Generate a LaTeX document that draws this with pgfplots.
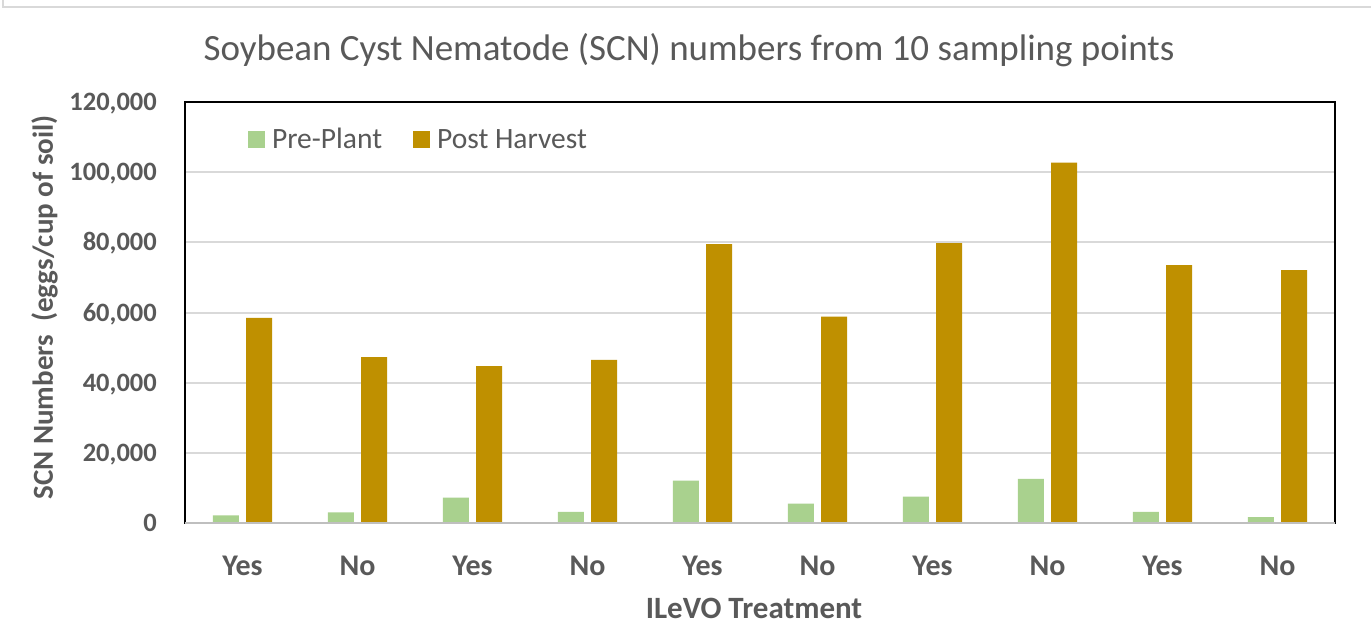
\documentclass[border=0pt]{standalone}
\usepackage{fontspec}
\setmainfont{Carlito}
\usepackage{pgfplots}
\pgfplotsset{compat=1.18}
\definecolor{txt}{HTML}{595959}
\definecolor{pre}{HTML}{A9D18E}
\definecolor{post}{HTML}{BF9000}
\definecolor{grd}{HTML}{D9D9D9}
\definecolor{frm}{HTML}{D9D9D9}
\definecolor{bax}{HTML}{BFBFBF}
\begin{document}
\begin{tikzpicture}[x=1pt,y=1pt]
\useasboundingbox (0,0) rectangle (1371,641);
\fill[white] (0,0) rectangle (1371,641);
\draw[frm, line width=2pt] (3,641) -- (3,634) -- (1371,634);
\node[anchor=base, font=\fontsize{37}{42}\selectfont, text=txt, inner sep=0pt] at (689,580) {Soybean Cyst Nematode (SCN) numbers from 10 sampling points};
\begin{axis}[
  at={(185pt,118pt)}, anchor=south west,
  scale only axis, width=1150pt, height=421pt,
  xmin=-0.5, xmax=9.5, ymin=0, ymax=120000,
  ybar, bar width=0.226,
  xtick={0,...,9}, xticklabels={Yes,No,Yes,No,Yes,No,Yes,No,Yes,No},
  ytick={0,20000,40000,60000,80000,100000,120000},
  yticklabels={0,{20,000},{40,000},{60,000},{80,000},{100,000},{120,000}},
  scaled y ticks=false,
  major tick length=0pt,
  ymajorgrids, grid style={grd, line width=2pt},
  axis line style={black, line width=1.5pt},
  yticklabel style={font=\fontsize{26.5}{30}\selectfont\bfseries, text=txt, anchor=base east, inner sep=0pt, xshift=-28pt, yshift=-8.5pt},
  xticklabel style={font=\fontsize{30}{34}\selectfont\bfseries, text=txt, anchor=base, inner sep=0pt, yshift=-52pt},
  xlabel={ILeVO Treatment},
  every axis x label/.style={at={(axis description cs:0.4948,0)}, anchor=base, yshift=-95pt, font=\fontsize{31}{34}\selectfont\bfseries, text=txt, inner sep=0pt},
  ylabel={SCN Numbers~~(eggs/cup of soil)},
  every axis y label/.style={at={(axis description cs:-0.1148,0.512)}, anchor=base, rotate=90, font=\fontsize{29}{34}\selectfont\bfseries, text=txt, inner sep=0pt},
  legend columns=2,
  legend style={at={(0.0548,0.911)}, anchor=west, draw=none, fill=none, inner sep=0pt, outer sep=0pt, font=\fontsize{29.5}{33}\selectfont, text=txt,
    nodes={inner sep=0pt},
    /tikz/every odd column/.append style={column sep=7pt},
    /tikz/every even column/.append style={column sep=31pt}},
  after end axis/.code={\draw[bax, line width=2pt] (rel axis cs:0,0) -- (rel axis cs:1,0);},
]
\addplot[fill=pre, draw=none, bar shift=-0.145, legend image code/.code={\fill[pre] (0pt,-8.5pt) rectangle (17pt,8.5pt);}] coordinates {
(0,2200) (1,3000) (2,7200) (3,3200) (4,12100) (5,5500) (6,7500) (7,12600) (8,3200) (9,1700)};
\addlegendentry{Pre-Plant}
\addplot[fill=post, draw=none, bar shift=0.145, legend image code/.code={\fill[post] (0pt,-8.5pt) rectangle (17pt,8.5pt);}] coordinates {
(0,58500) (1,47300) (2,44700) (3,46500) (4,79500) (5,58800) (6,79800) (7,102700) (8,73500) (9,72100)};
\addlegendentry{Post Harvest}
\end{axis}
\end{tikzpicture}
\end{document}
